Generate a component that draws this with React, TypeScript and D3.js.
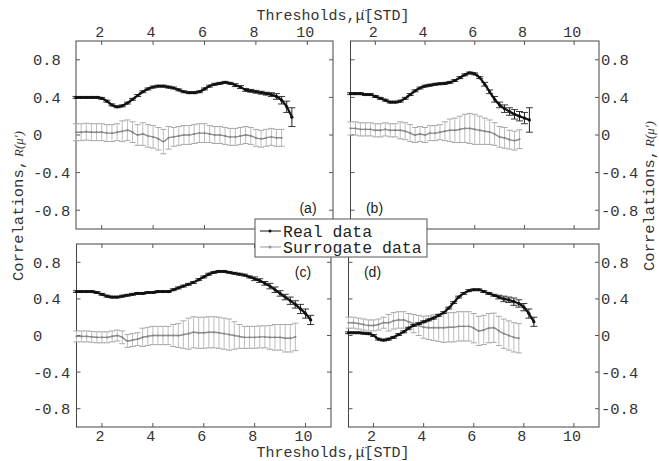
import * as d3 from 'd3';
import { useEffect, useRef } from 'react';

// threshold grid (STD units) shared by all series
const thresholds = [
  1.0, 1.2, 1.4, 1.6, 1.8, 2.0, 2.2, 2.4, 2.6, 2.8, 3.0, 3.2, 3.4, 3.6, 3.8, 4.0,
  4.2, 4.4, 4.6, 4.8, 5.0, 5.2, 5.4, 5.6, 5.8, 6.0, 6.2, 6.4, 6.6, 6.8, 7.0, 7.2,
  7.4, 7.6, 7.8, 8.0, 8.2, 8.4, 8.6, 8.8, 9.0, 9.2, 9.4, 9.6, 9.8, 10.0, 10.2
];

const xTicks = [2, 4, 6, 8, 10];
const yTicks = [0.8, 0.4, 0, -0.4, -0.8];
const yTickLabels = ['0.8', '0.4', '0', '-0.4', '-0.8'];

// (a)
const realA = [
  0.40, 0.40, 0.40, 0.40, 0.40, 0.39, 0.36, 0.32, 0.30, 0.31, 0.34, 0.38, 0.42, 0.46, 0.49,
  0.51, 0.52, 0.52, 0.51, 0.50, 0.48, 0.46, 0.45, 0.45, 0.46, 0.49, 0.52, 0.54, 0.55, 0.56,
  0.55, 0.53, 0.51, 0.48, 0.47, 0.46, 0.45, 0.44, 0.43, 0.41, 0.37, 0.30, 0.19
];
const realAErr = [
  0.01, 0.01, 0.01, 0.01, 0.01, 0.01, 0.01, 0.01, 0.01, 0.01, 0.01, 0.01, 0.01, 0.01, 0.01,
  0.01, 0.01, 0.01, 0.01, 0.01, 0.01, 0.01, 0.01, 0.01, 0.01, 0.01, 0.01, 0.01, 0.01, 0.01,
  0.01, 0.015, 0.015, 0.015, 0.015, 0.015, 0.015, 0.015, 0.02, 0.03, 0.04, 0.06, 0.1
];
const surrA = [
  0.03, 0.03, 0.035, 0.03, 0.03, 0.03, 0.02, 0.02, 0.03, 0.04, 0.05, 0.03, 0.0, 0.01, -0.01,
  -0.02, -0.04, -0.07, -0.03, -0.02, -0.01, 0.0, 0.0, 0.01, 0.02, 0.02, 0.01, 0.0, 0.0, -0.01,
  -0.02, -0.02, -0.01, 0.0, -0.01, -0.03, -0.04, -0.03, -0.02, -0.03, -0.03
];
const surrAErr = [
  0.09, 0.09, 0.09, 0.09, 0.09, 0.09, 0.09, 0.09, 0.09, 0.11, 0.11, 0.11, 0.11, 0.12, 0.12,
  0.12, 0.12, 0.13, 0.12, 0.10, 0.10, 0.10, 0.10, 0.10, 0.10, 0.10, 0.09, 0.09, 0.09, 0.09,
  0.09, 0.09, 0.09, 0.09, 0.09, 0.09, 0.09, 0.09, 0.09, 0.09, 0.09
];

// (b)
const realB = [
  0.44, 0.44, 0.44, 0.43, 0.43, 0.41, 0.39, 0.37, 0.35, 0.35, 0.36, 0.39, 0.43, 0.47, 0.50,
  0.52, 0.53, 0.54, 0.545, 0.55, 0.56, 0.58, 0.61, 0.64, 0.66, 0.65, 0.61, 0.54, 0.46, 0.38,
  0.32, 0.28, 0.25, 0.22, 0.20, 0.18, 0.16
];
const realBErr = [
  0.01, 0.01, 0.01, 0.01, 0.01, 0.01, 0.01, 0.01, 0.01, 0.01, 0.01, 0.01, 0.01, 0.01, 0.01,
  0.01, 0.01, 0.01, 0.01, 0.01, 0.01, 0.01, 0.01, 0.01, 0.01, 0.01, 0.01, 0.02, 0.02, 0.03,
  0.03, 0.04, 0.04, 0.05, 0.05, 0.06, 0.13
];
const surrB = [
  0.07, 0.07, 0.06, 0.06, 0.06, 0.05, 0.05, 0.06, 0.05, 0.05, 0.05, 0.04, 0.02, 0.0, 0.01,
  0.0, 0.02, 0.02, 0.03, 0.04, 0.05, 0.05, 0.06, 0.07, 0.07, 0.06, 0.05, 0.04, 0.03, 0.01,
  -0.02, -0.03, -0.05, -0.06, -0.045
];
const surrBErr = [
  0.07, 0.07, 0.07, 0.07, 0.07, 0.07, 0.07, 0.07, 0.07, 0.07, 0.09, 0.09, 0.09, 0.08, 0.08,
  0.08, 0.08, 0.08, 0.08, 0.10, 0.12, 0.13, 0.14, 0.15, 0.16, 0.16, 0.15, 0.14, 0.13, 0.12,
  0.11, 0.11, 0.10, 0.10, 0.10
];

// (c)
const realC = [
  0.48, 0.48, 0.48, 0.48, 0.47, 0.45, 0.43, 0.42, 0.42, 0.43, 0.44, 0.45, 0.46, 0.46, 0.47,
  0.47, 0.48, 0.48, 0.48, 0.50, 0.52, 0.54, 0.56, 0.58, 0.61, 0.64, 0.67, 0.69, 0.70, 0.70,
  0.69, 0.68, 0.67, 0.66, 0.64, 0.62, 0.60, 0.57, 0.54, 0.50, 0.46, 0.42, 0.38, 0.34, 0.29,
  0.24, 0.17
];
const realCErr = [
  0.01, 0.01, 0.01, 0.01, 0.01, 0.01, 0.01, 0.01, 0.01, 0.01, 0.01, 0.01, 0.01, 0.01, 0.01,
  0.01, 0.01, 0.01, 0.01, 0.01, 0.01, 0.01, 0.01, 0.01, 0.01, 0.01, 0.01, 0.01, 0.01, 0.01,
  0.01, 0.01, 0.01, 0.01, 0.01, 0.02, 0.02, 0.02, 0.03, 0.03, 0.03, 0.03, 0.04, 0.04, 0.05,
  0.05, 0.05
];
const surrC = [
  -0.01, -0.01, -0.01, -0.015, -0.02, -0.02, -0.02, -0.01, 0.0, -0.02, -0.06, -0.05, -0.04,
  -0.02, -0.01, 0.0, 0.0, 0.0, 0.0, 0.0, 0.0, 0.01, 0.02, 0.035, 0.03, 0.03, 0.035, 0.035,
  0.03, 0.02, 0.01, 0.0, -0.01, -0.02, -0.02, -0.02, -0.015, -0.015, -0.02, -0.02, -0.02,
  -0.03, -0.03, -0.015
];
const surrCErr = [
  0.06, 0.06, 0.06, 0.06, 0.06, 0.06, 0.06, 0.06, 0.06, 0.07, 0.07, 0.07, 0.07, 0.10, 0.10,
  0.10, 0.10, 0.10, 0.10, 0.12, 0.13, 0.15, 0.17, 0.17, 0.17, 0.17, 0.17, 0.17, 0.17, 0.17,
  0.17, 0.15, 0.13, 0.12, 0.12, 0.12, 0.12, 0.12, 0.13, 0.14, 0.14, 0.15, 0.15, 0.15
];

// (d)
const realD = [
  0.03, 0.03, 0.03, 0.025, 0.02, 0.0, -0.04, -0.05, -0.04, -0.02, 0.01, 0.04, 0.08, 0.11,
  0.13, 0.15, 0.17, 0.19, 0.22, 0.25, 0.30, 0.36, 0.42, 0.46, 0.49, 0.50, 0.50, 0.48, 0.46,
  0.44, 0.42, 0.40, 0.39, 0.37, 0.35, 0.31, 0.24, 0.15
];
const realDErr = [
  0.01, 0.01, 0.01, 0.01, 0.01, 0.01, 0.01, 0.01, 0.01, 0.01, 0.01, 0.01, 0.01, 0.01, 0.01,
  0.01, 0.01, 0.01, 0.01, 0.01, 0.01, 0.01, 0.01, 0.01, 0.01, 0.01, 0.01, 0.01, 0.01, 0.01,
  0.02, 0.03, 0.03, 0.04, 0.04, 0.04, 0.05, 0.05
];
const surrD = [
  0.14, 0.14, 0.13, 0.12, 0.11, 0.11, 0.12, 0.14, 0.14, 0.16, 0.17, 0.17, 0.15, 0.13, 0.11,
  0.09, 0.085, 0.085, 0.085, 0.085, 0.09, 0.09, 0.10, 0.10, 0.10, 0.08, 0.05, 0.06, 0.08,
  0.085, 0.05, 0.02, 0.0, -0.02, -0.03
];
const surrDErr = [
  0.06, 0.06, 0.06, 0.06, 0.06, 0.06, 0.06, 0.06, 0.09, 0.09, 0.09, 0.09, 0.09, 0.10, 0.11,
  0.12, 0.13, 0.14, 0.15, 0.16, 0.16, 0.16, 0.16, 0.16, 0.16, 0.16, 0.16, 0.16, 0.16, 0.16,
  0.16, 0.16, 0.16, 0.16, 0.16
];

const W = 659;
const H = 461;
const MONO = '"Liberation Mono", "DejaVu Sans Mono", monospace';

const panels = [
  { tag: '(a)', real: realA, realErr: realAErr, surr: surrA, surrErr: surrAErr,
    left: 76, right: 333, top: 41, bottom: 229, yAxis: 'left', xAxis: 'top', tagDx: -25, tagDy: -16, tagFrom: 'br' },
  { tag: '(b)', real: realB, realErr: realBErr, surr: surrB, surrErr: surrBErr,
    left: 350.5, right: 599, top: 41, bottom: 229, yAxis: 'right', xAxis: 'top', tagDx: 24, tagDy: -16, tagFrom: 'bl' },
  { tag: '(c)', real: realC, realErr: realCErr, surr: surrC, surrErr: surrCErr,
    left: 76.5, right: 331, top: 244, bottom: 427, yAxis: 'left', xAxis: 'bottom', tagDx: -28, tagDy: 33, tagFrom: 'tr' },
  { tag: '(d)', real: realD, realErr: realDErr, surr: surrD, surrErr: surrDErr,
    left: 348.5, right: 599, top: 244, bottom: 427, yAxis: 'right', xAxis: 'bottom', tagDx: 24, tagDy: 33, tagFrom: 'tl' }
];

function App() {
  const ref = useRef<SVGSVGElement>(null);

  useEffect(() => {
    const svg = d3.select(ref.current);
    svg.selectAll('*').remove();
    svg.append('rect').attr('width', W).attr('height', H).attr('fill', '#fff');

    panels.forEach((p) => {
      const x = d3.scaleLinear().domain([1, 11]).range([p.left, p.right]);
      const y = d3.scaleLinear().domain([-1, 1]).range([p.bottom, p.top]);
      const g = svg.append('g');

      // box
      g.append('rect')
        .attr('x', p.left).attr('y', p.top)
        .attr('width', p.right - p.left).attr('height', p.bottom - p.top)
        .attr('fill', 'none').attr('stroke', '#444').attr('stroke-width', 1);

      // inward ticks on all four sides
      xTicks.forEach((t) => {
        g.append('line').attr('x1', x(t)).attr('x2', x(t)).attr('y1', p.bottom).attr('y2', p.bottom - 4).attr('stroke', '#555');
        g.append('line').attr('x1', x(t)).attr('x2', x(t)).attr('y1', p.top).attr('y2', p.top + 4).attr('stroke', '#555');
      });
      yTicks.forEach((t) => {
        g.append('line').attr('x1', p.left).attr('x2', p.left + 4).attr('y1', y(t)).attr('y2', y(t)).attr('stroke', '#555');
        g.append('line').attr('x1', p.right).attr('x2', p.right - 4).attr('y1', y(t)).attr('y2', y(t)).attr('stroke', '#555');
      });

      // tick labels
      xTicks.forEach((t) => {
        g.append('text')
          .attr('x', x(t) - 2)
          .attr('y', p.xAxis === 'top' ? p.top - 4 : p.bottom + 14)
          .attr('text-anchor', 'middle')
          .attr('font-family', MONO).attr('font-size', 15).attr('fill', '#333')
          .text(t);
      });
      yTicks.forEach((t, i) => {
        g.append('text')
          .attr('x', p.yAxis === 'left' ? 33 : p.right + 2)
          .attr('y', y(t))
          .attr('dy', '0.35em')
          .attr('font-family', MONO).attr('font-size', 15.5).attr('fill', '#333')
          .text(yTickLabels[i]);
      });

      // surrogate data: light error bars, grey mean line
      const surr = p.surr.map((v, i) => ({ t: thresholds[i], v, e: p.surrErr[i] }));
      const sg = g.append('g');
      surr.forEach((d) => {
        const cx = x(d.t);
        sg.append('line').attr('x1', cx).attr('x2', cx).attr('y1', y(d.v - d.e)).attr('y2', y(d.v + d.e))
          .attr('stroke', '#bdbdbd').attr('stroke-width', 1);
        [d.v - d.e, d.v + d.e].forEach((yy) => {
          sg.append('line').attr('x1', cx - 3).attr('x2', cx + 3).attr('y1', y(yy)).attr('y2', y(yy))
            .attr('stroke', '#a8a8a8').attr('stroke-width', 1);
        });
      });
      const line = d3.line<{ t: number; v: number }>()
        .x((d) => x(d.t))
        .y((d) => y(d.v))
        .curve(d3.curveMonotoneX);
      sg.append('path').datum(surr).attr('d', line).attr('fill', 'none').attr('stroke', '#8a8a8a').attr('stroke-width', 1.4);
      sg.selectAll('circle').data(surr).enter().append('circle')
        .attr('cx', (d) => x(d.t)).attr('cy', (d) => y(d.v)).attr('r', 1.1).attr('fill', '#8a8a8a');

      // real data: black line, dots and error bars
      const real = p.real.map((v, i) => ({ t: thresholds[i], v, e: p.realErr[i] }));
      const rg = g.append('g');
      real.forEach((d) => {
        const cx = x(d.t);
        rg.append('line').attr('x1', cx).attr('x2', cx).attr('y1', y(d.v - d.e)).attr('y2', y(d.v + d.e))
          .attr('stroke', '#222').attr('stroke-width', 1);
        [d.v - d.e, d.v + d.e].forEach((yy) => {
          rg.append('line').attr('x1', cx - 3.5).attr('x2', cx + 3.5).attr('y1', y(yy)).attr('y2', y(yy))
            .attr('stroke', '#222').attr('stroke-width', 0.9);
        });
      });
      rg.append('path').datum(real).attr('d', line).attr('fill', 'none').attr('stroke', '#111').attr('stroke-width', 2.2);
      rg.selectAll('circle').data(real).enter().append('circle')
        .attr('cx', (d) => x(d.t)).attr('cy', (d) => y(d.v)).attr('r', 1.6).attr('fill', '#111');

      // panel tag
      const tx = p.tagFrom.endsWith('r') ? p.right + p.tagDx : p.left + p.tagDx;
      const ty = p.tagFrom.startsWith('b') ? p.bottom + p.tagDy : p.top + p.tagDy;
      g.append('text')
        .attr('x', tx).attr('y', ty)
        .attr('text-anchor', 'middle')
        .attr('font-family', '"Liberation Sans", Arial, sans-serif').attr('font-size', 14).attr('fill', '#222')
        .text(p.tag);
    });

    // axis titles
    [20, 457].forEach((yy) => {
      svg.append('text')
        .attr('x', 333).attr('y', yy)
        .attr('text-anchor', 'middle')
        .attr('font-family', MONO).attr('font-size', 15).attr('fill', '#333')
        .text('Thresholds,\u03BC\u0308[STD]');
    });
    [[23, 206], [654, 196]].forEach(([xx, yy]) => {
      const t = svg.append('text')
        .attr('transform', `translate(${xx},${yy}) rotate(-90)`)
        .attr('text-anchor', 'middle')
        .attr('font-family', MONO).attr('font-size', 15.5).attr('fill', '#333');
      t.append('tspan').text('Correlations,');
      t.append('tspan')
        .attr('font-family', '"Liberation Serif", serif').attr('font-style', 'italic').attr('font-size', 13)
        .attr('dx', 3)
        .text('R(\u03BC\u2032)');
    });

    // legend
    const lg = svg.append('g');
    lg.append('rect').attr('x', 255).attr('y', 219).attr('width', 172).attr('height', 38)
      .attr('fill', '#fff').attr('stroke', '#555').attr('stroke-width', 1);
    [
      { label: 'Real data', color: '#111', yy: 231 },
      { label: 'Surrogate data', color: '#999', yy: 247 }
    ].forEach((d) => {
      lg.append('line').attr('x1', 260).attr('x2', 281).attr('y1', d.yy).attr('y2', d.yy).attr('stroke', d.color).attr('stroke-width', 1);
      lg.append('circle').attr('cx', 270).attr('cy', d.yy).attr('r', 1.5).attr('fill', d.color);
      lg.append('text').attr('x', 283).attr('y', d.yy).attr('dy', '0.35em')
        .attr('font-family', MONO).attr('font-size', 16.5).attr('fill', '#222')
        .text(d.label);
    });
  }, []);

  return (
    <svg
      ref={ref}
      width={W}
      height={H}
      style={{ position: 'absolute', left: 0, top: 0, display: 'block' }}
    ></svg>
  );
}

export default App;
